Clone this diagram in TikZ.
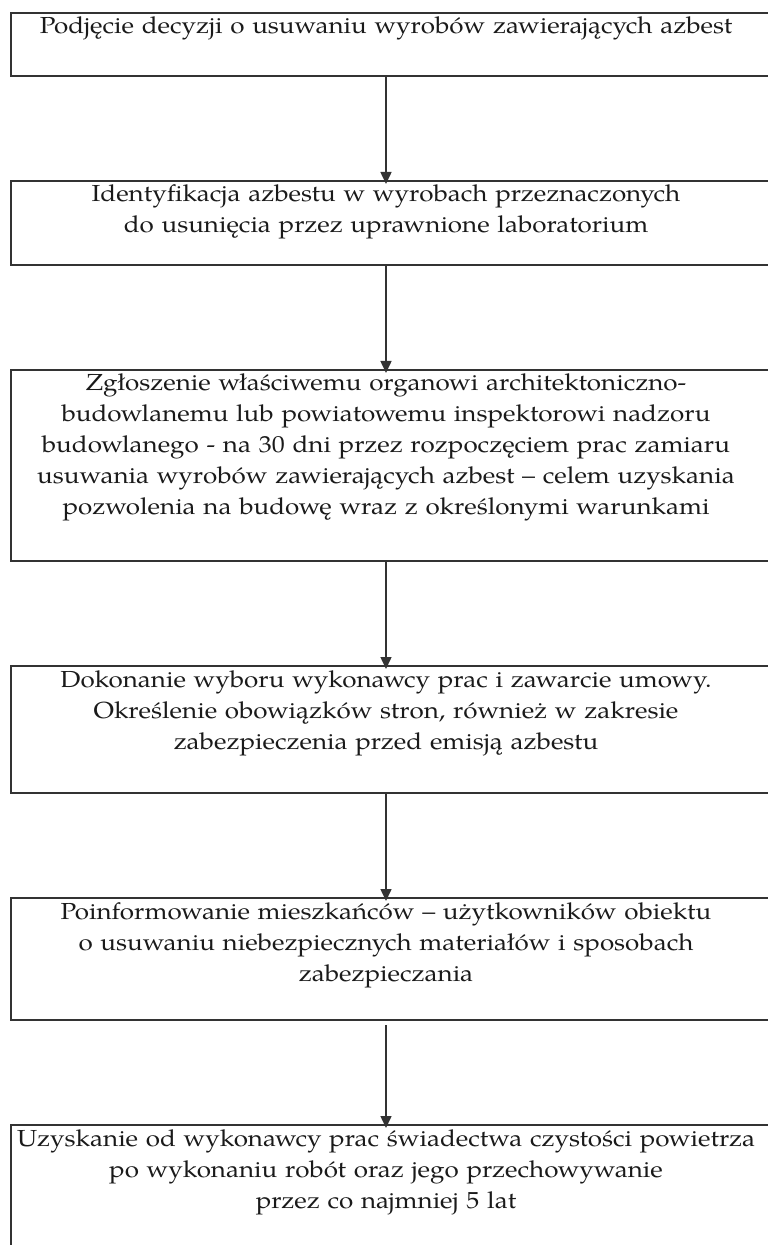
\documentclass[tikz,border=0pt]{standalone}
\usepackage{fontspec}
\setmainfont[FakeStretch=1.12]{TeX Gyre Pagella}
\usetikzlibrary{arrows.meta, positioning}
\definecolor{framegray}{HTML}{333333}
\definecolor{inkgray}{HTML}{1A1A1A}
\tikzstyle{chart}=[>={Triangle[length=6pt,width=5.5pt]}, x=0.5pt, y=-0.5pt]
\tikzstyle{stage}=[text width=375pt, align=center, inner sep=0pt, outer sep=0pt,
  text height=10.5pt, text=inkgray, font=\fontsize{11.6pt}{15.5pt}\selectfont,
  append after command={\pgfextra{\draw[framegray, line width=1pt]
    (\tikzlastnode.north west) rectangle ([xshift=20pt]\tikzlastnode.south east);}}]
\tikzstyle{flow}=[framegray, line width=0.75pt, shorten >=-1.5pt]

\begin{document}
\begin{tikzpicture}[chart]
  \useasboundingbox (0,0) rectangle (767,1245);
  \node[stage, text depth=21pt, anchor=north] (0) at (386,13) {Podjęcie decyzji o usuwaniu wyrobów zawierających azbest};
  \node[stage, text depth=31.5pt] (1) [below=52.5pt of 0] {Identyfikacja azbestu w wyrobach przeznaczonych\\do usunięcia przez uprawnione laboratorium};
  \node[stage, text depth=85pt] (2) [below=52.5pt of 1] {Zgłoszenie właściwemu organowi architektoniczno-\\budowlanemu lub powiatowemu inspektorowi nadzoru\\budowlanego - na 30 dni przez rozpoczęciem prac zamiaru\\usuwania wyrobów zawierających azbest – celem uzyskania\\pozwolenia na budowę wraz z określonymi warunkami};
  \node[stage, text depth=53pt] (3) [below=52.5pt of 2] {Dokonanie wyboru wykonawcy prac i zawarcie umowy.\\Określenie obowiązków stron, również w zakresie\\zabezpieczenia przed emisją azbestu};
  \node[stage, text depth=50.5pt] (4) [below=52.5pt of 3] {Poinformowanie mieszkańców – użytkowników obiektu\\o usuwaniu niebezpiecznych materiałów i sposobach\\zabezpieczania};
  \node[stage, text depth=64.5pt] (5) [below=52.5pt of 4] {Uzyskanie od wykonawcy prac świadectwa czystości powietrza\\po wykonaniu robót oraz jego przechowywanie\\przez co najmniej 5 lat};
  \path[->] (0) edge[flow] (1);
  \path[->] (1) edge[flow] (2);
  \path[->] (2) edge[flow] (3);
  \path[->] (3) edge[flow] (4);
  \path[->] (4) edge[flow, shorten <=2.5pt] (5);
\end{tikzpicture}
\end{document}
